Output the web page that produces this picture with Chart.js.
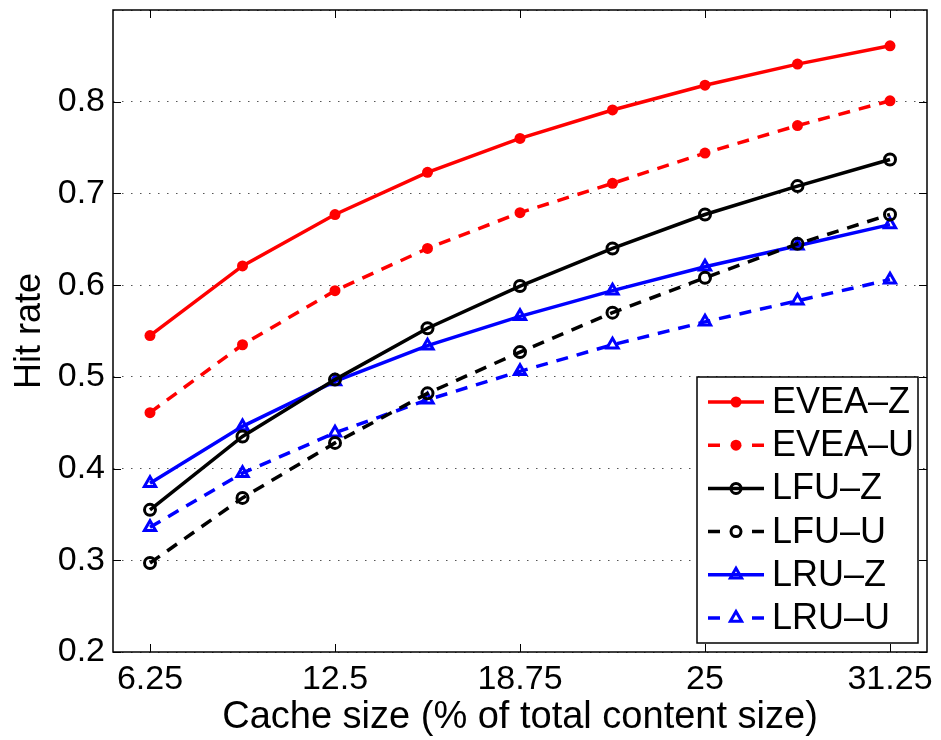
<!DOCTYPE html>
<html>
<head>
<meta charset="utf-8">
<script src="https://cdn.jsdelivr.net/npm/chart.js@4/dist/chart.umd.min.js"></script>
<style>
    html, body { margin: 0; padding: 0; background: #fff; }
    #wrap { width: 941px; height: 740px; }
</style>
</head>
<body>
<div id="wrap"><canvas id="chart" width="941" height="740"></canvas></div>
<script>
const cacheSizes = [6.25, 9.375, 12.5, 15.625, 18.75, 21.875, 25, 28.125, 31.25];
const xTickValues = [6.25, 12.5, 18.75, 25, 31.25];
const xTickLabels = ["6.25", "12.5", "18.75", "25", "31.25"];
const yTickValues = [0.2, 0.3, 0.4, 0.5, 0.6, 0.7, 0.8];

const eveaZ = [0.545, 0.621, 0.677, 0.723, 0.760, 0.791, 0.818, 0.841, 0.861];
const eveaU = [0.461, 0.535, 0.594, 0.640, 0.679, 0.711, 0.744, 0.774, 0.801];
const lfuZ = [0.355, 0.435, 0.497, 0.553, 0.599, 0.640, 0.677, 0.708, 0.737];
const lfuU = [0.297, 0.368, 0.428, 0.482, 0.527, 0.570, 0.608, 0.645, 0.677];
const lruZ = [0.384, 0.446, 0.495, 0.534, 0.566, 0.594, 0.620, 0.643, 0.666];
const lruU = [0.336, 0.395, 0.439, 0.475, 0.506, 0.535, 0.560, 0.583, 0.606];

const FONT = "'Liberation Sans', Arial, Helvetica, sans-serif";
const DASH = [12, 9];

const toPoints = (vals) => vals.map((v, i) => ({ x: cacheSizes[i], y: v }));

const seriesStyles = [
    { label: "EVEA\u2013Z", data: eveaZ, color: "#ff0000", dash: [], marker: "dot" },
    { label: "EVEA\u2013U", data: eveaU, color: "#ff0000", dash: DASH, marker: "dot" },
    { label: "LFU\u2013Z", data: lfuZ, color: "#000000", dash: [], marker: "ring" },
    { label: "LFU\u2013U", data: lfuU, color: "#000000", dash: DASH, marker: "ring" },
    { label: "LRU\u2013Z", data: lruZ, color: "#0000ff", dash: [], marker: "tri" },
    { label: "LRU\u2013U", data: lruU, color: "#0000ff", dash: DASH, marker: "tri" },
];

const datasets = seriesStyles.map((s) => ({
    label: s.label,
    data: toPoints(s.data),
    borderColor: s.color,
    backgroundColor: s.color,
    borderWidth: 3.5,
    borderDash: s.dash,
    tension: 0,
    pointStyle: s.marker === "tri" ? "triangle" : "circle",
    pointRadius: s.marker === "dot" ? 5.5 : (s.marker === "ring" ? 5.5 : 6.5),
    pointBorderWidth: s.marker === "dot" ? 0 : 3,
    pointBackgroundColor: s.marker === "dot" ? s.color : "rgba(255,255,255,0)",
    pointBorderColor: s.color,
}));

function drawMarker(ctx, kind, color, x, y) {
    ctx.save();
    ctx.setLineDash([]);
    ctx.strokeStyle = color;
    ctx.fillStyle = color;
    ctx.lineWidth = 3;
    ctx.beginPath();
    if (kind === "dot") {
        ctx.arc(x, y, 5.5, 0, Math.PI * 2);
        ctx.fill();
    } else if (kind === "ring") {
        ctx.arc(x, y, 5, 0, Math.PI * 2);
        ctx.stroke();
    } else {
        const r = 6.5;
        ctx.moveTo(x, y - r);
        ctx.lineTo(x + r * 0.866, y + r * 0.5);
        ctx.lineTo(x - r * 0.866, y + r * 0.5);
        ctx.closePath();
        ctx.stroke();
    }
    ctx.restore();
}

const frameAndLegend = {
    id: "frameAndLegend",
    afterDraw: (chart) => {
        const { ctx, chartArea: a, scales } = chart;
        ctx.save();
        // frame
        ctx.strokeStyle = "#000";
        ctx.lineWidth = 1.5;
        ctx.setLineDash([]);
        ctx.strokeRect(a.left, a.top, a.right - a.left, a.bottom - a.top);
        // inner ticks
        const tl = 8;
        ctx.lineWidth = 1;
        ctx.beginPath();
        xTickValues.forEach((v) => {
            const px = Math.round(scales.x.getPixelForValue(v)) + 0.5;
            ctx.moveTo(px, a.bottom);
            ctx.lineTo(px, a.bottom - tl);
            ctx.moveTo(px, a.top);
            ctx.lineTo(px, a.top + tl);
        });
        yTickValues.forEach((v) => {
            const py = Math.round(scales.y.getPixelForValue(v)) + 0.5;
            ctx.moveTo(a.left, py);
            ctx.lineTo(a.left + tl, py);
            ctx.moveTo(a.right, py);
            ctx.lineTo(a.right - tl, py);
        });
        ctx.stroke();

        // legend box
        const bx = 697, by = 377, bw = 221, bh = 266;
        ctx.fillStyle = "#fff";
        ctx.fillRect(bx, by, bw, bh);
        ctx.lineWidth = 1.5;
        ctx.strokeStyle = "#000";
        ctx.strokeRect(bx, by, bw, bh);
        const rowH = 43.2;
        seriesStyles.forEach((s, i) => {
            const y = by + 25 + i * rowH;
            const x0 = bx + 11, x1 = bx + 67, xm = (x0 + x1) / 2;
            ctx.save();
            ctx.strokeStyle = s.color;
            ctx.lineWidth = 3.5;
            ctx.beginPath();
            if (s.dash.length) {
                ctx.moveTo(x0, y); ctx.lineTo(x0 + 12, y);
                ctx.moveTo(x1 - 12, y); ctx.lineTo(x1, y);
            } else {
                ctx.moveTo(x0, y); ctx.lineTo(x1, y);
            }
            ctx.stroke();
            ctx.restore();
            drawMarker(ctx, s.marker, s.color, xm, y);
            ctx.fillStyle = "#000";
            ctx.font = "36px " + FONT;
            ctx.textBaseline = "middle";
            ctx.textAlign = "left";
            ctx.fillText(s.label, bx + 75, y + 1);
        });
        ctx.restore();
    },
};

new Chart(document.getElementById("chart"), {
    type: "line",
    data: { datasets: datasets },
    options: {
        responsive: false,
        animation: false,
        layout: { padding: { left: 0, top: 10, right: 14, bottom: 0 } },
        plugins: {
            legend: { display: false },
            tooltip: { enabled: false },
        },
        scales: {
            x: {
                type: "linear",
                min: 5,
                max: 32.5,
                afterBuildTicks: (scale) => {
                    scale.ticks = xTickValues.map((v) => ({ value: v }));
                },
                afterFit: (scale) => {
                    scale.height = 88;
                    scale.paddingLeft = 0;
                    scale.paddingRight = 0;
                },
                grid: { display: false, drawTicks: false },
                border: { display: false },
                ticks: {
                    color: "#000",
                    padding: 7,
                    maxRotation: 0,
                    autoSkip: false,
                    font: { family: FONT, size: 34 },
                    callback: (v) => xTickLabels[xTickValues.indexOf(v)],
                },
                title: {
                    display: true,
                    text: "Cache size (% of total content size)",
                    color: "#000",
                    font: { family: FONT, size: 38 },
                    padding: { top: 0, bottom: 0 },
                },
            },
            y: {
                min: 0.2,
                max: 0.9,
                afterBuildTicks: (scale) => {
                    scale.ticks = yTickValues.concat([0.9]).map((v) => ({ value: v }));
                },
                afterFit: (scale) => {
                    scale.width = 113;
                    scale.paddingTop = 0;
                    scale.paddingBottom = 0;
                },
                grid: {
                    display: true,
                    drawTicks: false,
                    color: "#555",
                    lineWidth: 1,
                },
                border: { display: false, dash: [1.5, 7.5] },
                ticks: {
                    color: "#000",
                    padding: 8,
                    font: { family: FONT, size: 34 },
                    callback: (v) => (v > 0.85 ? "" : v.toFixed(1)),
                },
                title: {
                    display: true,
                    text: "Hit rate",
                    color: "#000",
                    font: { family: FONT, size: 36 },
                    padding: { top: 8, bottom: 0 },
                },
            },
        },
    },
    plugins: [frameAndLegend],
});
</script>
</body>
</html>
